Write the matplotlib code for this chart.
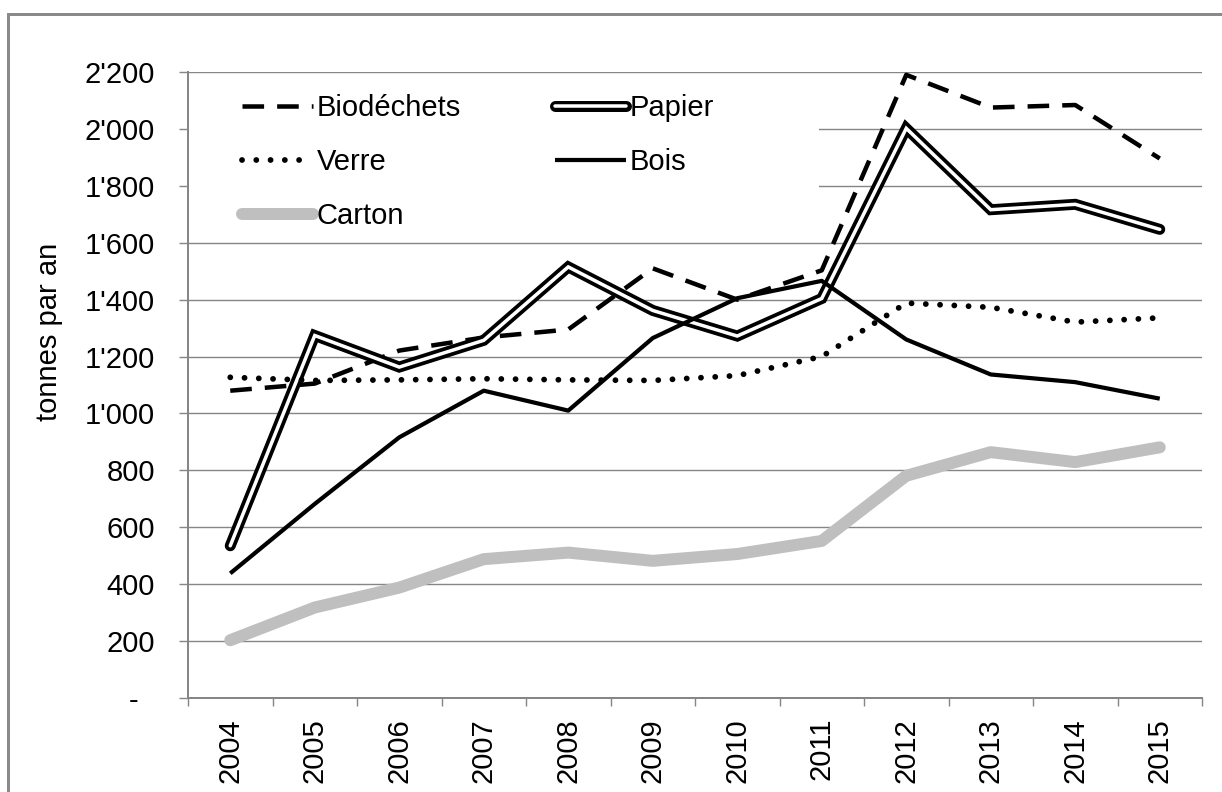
import matplotlib
matplotlib.use("Agg")
import matplotlib.pyplot as plt
from matplotlib.patches import Rectangle
from matplotlib.legend_handler import HandlerTuple
from matplotlib.ticker import FixedLocator, FuncFormatter

# ---- data ----
years = ["2004", "2005", "2006", "2007", "2008", "2009",
         "2010", "2011", "2012", "2013", "2014", "2015"]
biodechets = [1080, 1105, 1221, 1267, 1295, 1510, 1400, 1503, 2190, 2075, 2084, 1896]
papier     = [535, 1274, 1163, 1257, 1515, 1362, 1272, 1404, 2002, 1716, 1735, 1647]
verre      = [1127, 1116, 1118, 1122, 1118, 1116, 1133, 1200, 1388, 1373, 1321, 1336]
bois       = [438, 682, 916, 1080, 1010, 1265, 1405, 1466, 1260, 1137, 1110, 1052]
carton     = [203, 318, 388, 488, 511, 482, 506, 552, 781, 864, 829, 881]
y_ticks = [0, 200, 400, 600, 800, 1000, 1200, 1400, 1600, 1800, 2000, 2200]
y_label = "tonnes par an"

W, H = 1222, 792
DPI = 100
PX = 72.0 / DPI  # points per pixel
FONT = "Liberation Sans"
FS = 21
GRAY = "#868686"

plt.rcParams["font.family"] = [FONT, "DejaVu Sans"]

fig = plt.figure(figsize=(W / DPI, H / DPI), dpi=DPI)

# outer chart frame (extends beyond right/bottom edges)
fig.patches.append(Rectangle((8 / W, -0.1), 1.2, 1 - 14 / H + 0.1,
                             transform=fig.transFigure, fill=False,
                             edgecolor="#8a8a8a", linewidth=3 * PX, clip_on=False))

ax_l, ax_r, ax_t, ax_b = 188, 1202, 72, 698
ax = fig.add_axes([ax_l / W, (H - ax_b) / H, (ax_r - ax_l) / W, (ax_b - ax_t) / H])

x = list(range(len(years)))

l_bio, = ax.plot(x, biodechets, color="black", lw=4.5 * PX,
                 linestyle=(0, (4.8, 2.9)), dash_capstyle="butt", zorder=3)
l_pap_b, = ax.plot(x, papier, color="black", lw=11 * PX,
                   solid_capstyle="round", solid_joinstyle="miter", zorder=4)
l_pap_w, = ax.plot(x, papier, color="white", lw=3.5 * PX,
                   solid_capstyle="round", solid_joinstyle="miter", zorder=4.1)
l_ver, = ax.plot(x, verre, color="black", lw=5.8 * PX,
                 linestyle=(0, (0.01, 2.45)), dash_capstyle="round", zorder=5)
l_bois, = ax.plot(x, bois, color="black", lw=4.2 * PX,
                  solid_capstyle="butt", solid_joinstyle="round", zorder=6)
l_car, = ax.plot(x, carton, color="#bfbfbf", lw=12 * PX,
                 solid_capstyle="round", solid_joinstyle="round", zorder=7)

ax.set_xlim(-0.5, len(years) - 0.5)
ax.set_ylim(0, 2200)

# axes styling
for s in ["top", "right"]:
    ax.spines[s].set_visible(False)
for s in ["left", "bottom"]:
    ax.spines[s].set_color(GRAY)
    ax.spines[s].set_linewidth(2 * PX)
    ax.spines[s].set_zorder(8)

ax.set_yticks(y_ticks)
def yfmt(v, pos):
    v = int(round(v))
    if v == 0:
        return "-  "
    return f"{v:,}".replace(",", "'")
ax.yaxis.set_major_formatter(FuncFormatter(yfmt))
ax.tick_params(axis="y", which="major", direction="out", length=9 * PX,
               width=1.4 * PX, color=GRAY, pad=24 * PX, labelsize=FS,
               labelcolor="black")
ax.yaxis.grid(True, color=GRAY, linewidth=1.4 * PX)
ax.set_axisbelow(True)

ax.set_xticks(x)
ax.set_xticklabels(years, rotation=90, fontsize=FS)
ax.xaxis.set_minor_locator(FixedLocator([i - 0.5 for i in range(len(years) + 1)]))
ax.tick_params(axis="x", which="major", length=0, pad=20 * PX)
ax.tick_params(axis="x", which="minor", direction="out", length=8 * PX,
               width=1.4 * PX, color=GRAY)

# white legend area covering gridlines
def ax_frac(px, py):
    return ((px - ax_l) / (ax_r - ax_l), (ax_b - py) / (ax_b - ax_t))
x0, y0 = ax_frac(189, 232)
x1, y1 = ax_frac(819, 84)
ax.add_patch(Rectangle((x0, y0), x1 - x0, y1 - y0, transform=ax.transAxes,
                       facecolor="white", edgecolor="none", zorder=1))

# y label
fig.text(49 / W, 1 - 332 / H, y_label, rotation=90, ha="center", va="center",
         fontsize=FS)

handles = [l_bio, l_ver, l_car, (l_pap_b, l_pap_w), l_bois]
labels = ["Biodéchets", "Verre", "Carton", "Papier", "Bois"]
leg = fig.legend(handles, labels, loc="upper left",
                 bbox_to_anchor=(242 / W, 1 - 94 / H), ncol=2, frameon=False,
                 fontsize=FS, handlelength=2.45, handletextpad=0.12,
                 columnspacing=3.2, labelspacing=0.9, borderpad=0,
                 borderaxespad=0,
                 handler_map={tuple: HandlerTuple(ndivide=1)})

fig.savefig("out.png", dpi=DPI)
